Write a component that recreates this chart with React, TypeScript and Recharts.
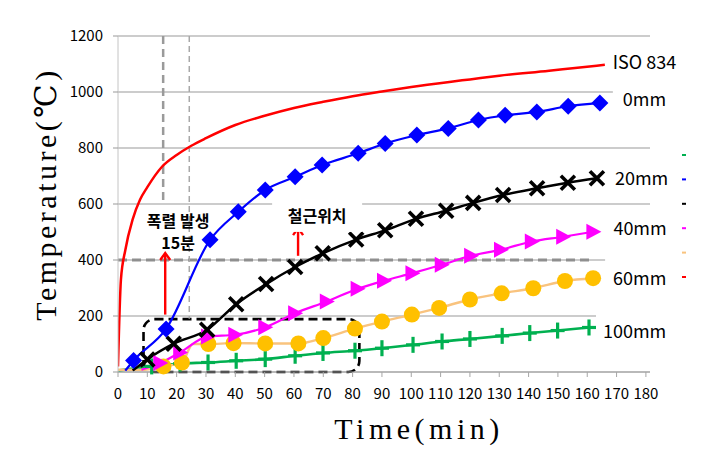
import React from 'react';
import {
  ComposedChart, Line, XAxis, YAxis, CartesianGrid, ReferenceLine, ReferenceArea,
  ReferenceDot, LabelList, Legend, Label,
} from 'recharts';

// ---------- data ----------
const xTicks = [0, 10, 20, 30, 40, 50, 60, 70, 80, 90, 100, 110, 120, 130, 140, 150, 160, 170, 180];
const yTicks = [0, 200, 400, 600, 800, 1000, 1200];

const isoTime = [0, 1, 2.5, 5, 7.5, 10, 15, 20, 25, 30, 40, 50, 60, 70, 80, 90, 100, 113, 120, 130, 147, 155, 166];
const isoTemp = [20, 330, 436, 545, 615, 660, 733, 775, 808, 835, 882, 915, 943, 965, 985, 1002, 1018, 1036, 1045, 1058, 1076, 1085, 1097];

const mm0Time = [2.5, 5.3, 16.4, 31.4, 41, 50.2, 60.4, 69.6, 81.9, 91.1, 101.9, 112.6, 122.9, 132, 142.8, 153.5, 164.3];
const mm0Temp = [5, 41, 154, 472, 572, 650, 697, 739, 781, 816, 846, 870, 900, 917, 929, 949, 961];
const mm0Unmarked = [2.5];

const mm20Time = [5, 10, 19, 30.4, 40.3, 50.5, 60.4, 69.8, 81.2, 91.1, 101.6, 111.9, 121.1, 131.3, 142.9, 153.4, 163.3];
const mm20Temp = [5, 45, 101, 151, 242, 314, 375, 424, 473, 506, 547, 576, 604, 632, 656, 676, 692];
const mm20Unmarked = [5];

const mm40Time = [8, 14.4, 21.2, 30.7, 40, 50.2, 60.4, 71.2, 81.7, 90.7, 100.4, 110.4, 120.4, 130.6, 141.1, 151.8, 162.1];
const mm40Temp = [8, 32, 70, 127, 133, 160, 210, 252, 297, 326, 353, 383, 415, 437, 466, 483, 501];
const mm40Unmarked = [8];

const mm60Time = [0, 9, 15.5, 21.8, 25.5, 30.8, 39.4, 50.2, 61.5, 70, 80.8, 90, 100.2, 109.5, 120, 130.8, 141.6, 152.4, 162];
const mm60Temp = [8, 8, 20, 34, 100, 100, 103, 102, 102, 121, 155, 180, 205, 229, 259, 281, 299, 325, 335];
const mm60Unmarked = [0, 9, 25.5];

const mm100Time = [0, 11.5, 21.2, 30.7, 40.3, 50.2, 60.4, 69.9, 80.8, 90, 100.6, 110.5, 120, 131, 140.4, 149.9, 160.6];
const mm100Temp = [5, 20, 30, 34, 40, 46, 58, 68, 76, 85, 97, 109, 118, 129, 139, 148, 159];
const mm100Unmarked = [0];

const legendOrder = ['100mm', '0mm', '20mm', '40mm', '60mm', 'ISO 834'];

// ---------- helpers ----------
type Pt = { t: number; v: number; h: boolean };
const build = (ts: number[], vs: number[], unmarked: number[] = []): Pt[] =>
  ts.map((t, i) => ({ t, v: vs[i], h: unmarked.includes(t) }));

const isoData = build(isoTime, isoTemp);
const mm0Data = build(mm0Time, mm0Temp, mm0Unmarked);
const mm20Data = build(mm20Time, mm20Temp, mm20Unmarked);
const mm40Data = build(mm40Time, mm40Temp, mm40Unmarked);
const mm60Data = build(mm60Time, mm60Temp, mm60Unmarked);
const mm100Data = build(mm100Time, mm100Temp, mm100Unmarked);

const FONT = "'Noto Sans CJK KR', 'Noto Sans', sans-serif";
const SERIF = "'Liberation Serif', 'DejaVu Serif', serif";

const C = {
  iso: '#ff0000',
  mm0: '#0000ff',
  mm20: '#000000',
  mm40: '#ff00ff',
  mm60: '#ffc000',
  mm60Line: '#f9c37e',
  mm100: '#00b050',
  grid: '#999999',
};

const empty = (k: any) => <g key={k} />;

const DiamondDot = (p: any) => {
  const { cx, cy, payload, index } = p;
  if (payload?.h || cx == null) return empty(index);
  const s = 8.5;
  return <polygon key={index} points={`${cx},${cy - s} ${cx + s},${cy} ${cx},${cy + s} ${cx - s},${cy}`} fill={C.mm0} />;
};
const XDot = (p: any) => {
  const { cx, cy, payload, index } = p;
  if (payload?.h || cx == null) return empty(index);
  const s = 7;
  return (
    <g key={index} stroke={C.mm20} strokeWidth={3.6}>
      <line x1={cx - s} y1={cy - s} x2={cx + s} y2={cy + s} />
      <line x1={cx - s} y1={cy + s} x2={cx + s} y2={cy - s} />
    </g>
  );
};
const TriDot = (p: any) => {
  const { cx, cy, payload, index } = p;
  if (payload?.h || cx == null) return empty(index);
  return <polygon key={index} points={`${cx + 8},${cy} ${cx - 7},${cy - 8} ${cx - 7},${cy + 8}`} fill={C.mm40} />;
};
const CircleDot = (p: any) => {
  const { cx, cy, payload, index } = p;
  if (payload?.h || cx == null) return empty(index);
  return <circle key={index} cx={cx} cy={cy} r={8} fill={C.mm60} />;
};
const PlusDot = (p: any) => {
  const { cx, cy, payload, index } = p;
  if (payload?.h || cx == null) return empty(index);
  return (
    <g key={index} stroke={C.mm100} strokeWidth={3.2}>
      <line x1={cx} y1={cy - 8} x2={cx} y2={cy + 8} />
      <line x1={cx - 7} y1={cy} x2={cx + 7} y2={cy} />
    </g>
  );
};

const endLabel = (text: string, lastValue: number, dx: number, dy: number, w: number, pad: number) => (props: any) => {
  const x = props.x ?? props.viewBox?.x;
  const y = props.y ?? props.viewBox?.y;
  if (props.value !== lastValue || x == null) return null;
  const tx = x + dx;
  const ty = y + dy;
  return (
    <g>
      <rect x={tx - pad} y={ty - 18} width={w + pad + 6} height={36} fill="#fff" />
      <text x={tx} y={ty} dominantBaseline="central" fontSize={18} fontFamily={FONT} fill="#000">{text}</text>
    </g>
  );
};

const LegendDashes = (props: any) => {
  const payload: any[] = props.payload || [];
  const colorOf = (n: string) => (payload.find((p) => p.value === n) || {}).color || '#000';
  return (
    <div style={{ position: 'relative', width: 0, height: 0 }}>
      <svg width={20} height={160} style={{ position: 'absolute', left: 672, top: 140, overflow: 'visible' }}>
        {legendOrder.map((n, i) => (
          <rect key={n} x={2} y={6 + i * 24.4} width={4} height={2} fill={colorOf(n)} />
        ))}
      </svg>
    </div>
  );
};

const Arrow = (p: any) => {
  const { x1, y1, x2, y2 } = p;
  return (
    <g stroke="#ff0000" strokeWidth={2.4} fill="none">
      <line x1={x1} y1={y1} x2={x2} y2={y2 + 1} />
      <polyline points={`${x2 - 5},${y2 + 7} ${x2},${y2} ${x2 + 5},${y2 + 7}`} />
    </g>
  );
};

const textShape = (txt: string, box?: { w: number; h: number }) => (p: any) => {
  const { cx, cy } = p;
  return (
    <g>
      {box && <rect x={cx - box.w / 2} y={cy - box.h / 2} width={box.w} height={box.h} fill="#fff" />}
      <text x={cx} y={cy} textAnchor="middle" dominantBaseline="central" fontSize={16} fontWeight="bold" fontFamily={FONT} fill="#000">{txt}</text>
    </g>
  );
};

const YTitle = (p: any) => {
  const vb = p.viewBox || { x: 0, y: 0, width: 0, height: 0 };
  const x = vb.x + 48;
  const y = vb.y + vb.height / 2 - 10;
  return (
    <text x={x} y={y} transform={`rotate(-90, ${x}, ${y})`} textAnchor="middle" fontSize={30} fontFamily={SERIF} letterSpacing={3.5} fill="#000">
      Temperature(℃)
    </text>
  );
};
const XTitle = (p: any) => {
  const vb = p.viewBox || { x: 0, y: 0, width: 0, height: 0 };
  const x = vb.x + vb.width / 2 + 35;
  const y = vb.y + 67;
  return (
    <text x={x} y={y} textAnchor="middle" fontSize={30} fontFamily={SERIF} letterSpacing={4.5} fill="#000">
      Time(min)
    </text>
  );
};

const tickStyle = { fill: '#000', fontSize: 15, fontFamily: FONT };

export default function App() {
  return (
    <div style={{ width: 697, height: 441 }}>
      <ComposedChart width={697} height={441} margin={{ top: 28, right: 55, bottom: 37, left: 0 }}>
        <CartesianGrid vertical={false} stroke={C.grid} />
        <XAxis
          type="number" dataKey="t" domain={[0, 181.4]} ticks={xTicks} interval={0} allowDataOverflow
          height={40} tickSize={5} tickMargin={11} tick={tickStyle}
          axisLine={{ stroke: '#a6a6a6' }} tickLine={{ stroke: '#a6a6a6' }}
        >
          <Label content={XTitle} />
        </XAxis>
        <YAxis
          type="number" domain={[0, 1200]} ticks={yTicks} interval={0} width={110}
          tickSize={5} tickMargin={10} tick={tickStyle}
          axisLine={{ stroke: '#c4c4c4' }} tickLine={{ stroke: C.grid }}
        >
          <Label content={YTitle} />
        </YAxis>
        <Legend
          verticalAlign="top" align="left" layout="horizontal"
          wrapperStyle={{ left: 0, top: 0, width: 0, height: 0, overflow: 'visible' }}
          content={LegendDashes}
        />

        <ReferenceLine segment={[{ x: 0, y: 400 }, { x: 161, y: 400 }]} stroke="#8f8f8f" strokeWidth={3} strokeDasharray="9 5" ifOverflow="visible" />
        <ReferenceLine segment={[{ x: 15.4, y: 1200 }, { x: 15.4, y: 600 }]} stroke="#9a9a9a" strokeWidth={2.5} strokeDasharray="8 5" ifOverflow="visible" />
        <ReferenceLine segment={[{ x: 24.3, y: 1200 }, { x: 24.3, y: 190 }]} stroke="#a8a8a8" strokeWidth={1.5} strokeDasharray="6 4" ifOverflow="visible" />
        <ReferenceArea
          x1={8.7} x2={82.3} y1={0} y2={189} ifOverflow="visible"
          shape={(p: any) => (
            <rect x={p.x} y={p.y} width={p.width} height={p.height} rx={11} ry={11}
              fill="none" stroke="#000" strokeWidth={2.6} strokeDasharray="9 5" />
          )}
        />

        <Line data={isoData} dataKey="v" name="ISO 834" type="monotone" stroke={C.iso} strokeWidth={2.5} dot={false} activeDot={false} isAnimationActive={false}>
          <LabelList dataKey="v" content={endLabel('ISO 834', isoTemp[isoTemp.length - 1], 8, -3.5, 66, 4)} />
        </Line>
        <Line data={mm100Data} dataKey="v" name="100mm" type="monotone" stroke={C.mm100} strokeWidth={2.6} dot={PlusDot} activeDot={false} isAnimationActive={false}>
          <LabelList dataKey="v" content={endLabel('100mm', mm100Temp[mm100Temp.length - 1], 14, 2.3, 64, 7)} />
        </Line>
        <Line data={mm60Data} dataKey="v" name="60mm" type="monotone" stroke={C.mm60Line} strokeWidth={2.4} dot={CircleDot} activeDot={false} isAnimationActive={false}>
          <LabelList dataKey="v" content={endLabel('60mm', mm60Temp[mm60Temp.length - 1], 20, -1.6, 54, 8)} />
        </Line>
        <Line data={mm40Data} dataKey="v" name="40mm" type="monotone" stroke={C.mm40} strokeWidth={2.2} dot={TriDot} activeDot={false} isAnimationActive={false}>
          <LabelList dataKey="v" content={endLabel('40mm', mm40Temp[mm40Temp.length - 1], 20, -5, 54, 8)} />
        </Line>
        <Line data={mm20Data} dataKey="v" name="20mm" type="monotone" stroke={C.mm20} strokeWidth={2.5} dot={XDot} activeDot={false} isAnimationActive={false}>
          <LabelList dataKey="v" content={endLabel('20mm', mm20Temp[mm20Temp.length - 1], 18, -1.6, 54, 8)} />
        </Line>
        <Line data={mm0Data} dataKey="v" name="0mm" type="monotone" stroke={C.mm0} strokeWidth={2.2} dot={DiamondDot} activeDot={false} isAnimationActive={false}>
          <LabelList dataKey="v" content={endLabel('0mm', mm0Temp[mm0Temp.length - 1], 23, -4.5, 44, 10)} />
        </Line>

        <ReferenceLine segment={[{ x: 16.1, y: 205 }, { x: 16.1, y: 425 }]} ifOverflow="visible" shape={Arrow} />
        <ReferenceLine segment={[{ x: 61.4, y: 415 }, { x: 61.4, y: 514 }]} ifOverflow="visible" shape={Arrow} />
        <ReferenceDot x={20.5} y={542} r={1} ifOverflow="visible" shape={textShape('폭렬 발생')} />
        <ReferenceDot x={20.5} y={464} r={1} ifOverflow="visible" shape={textShape('15분')} />
        <ReferenceDot x={67.9} y={561} r={1} ifOverflow="visible" shape={textShape('철근위치', { w: 90, h: 34 })} />
      </ComposedChart>
    </div>
  );
}
